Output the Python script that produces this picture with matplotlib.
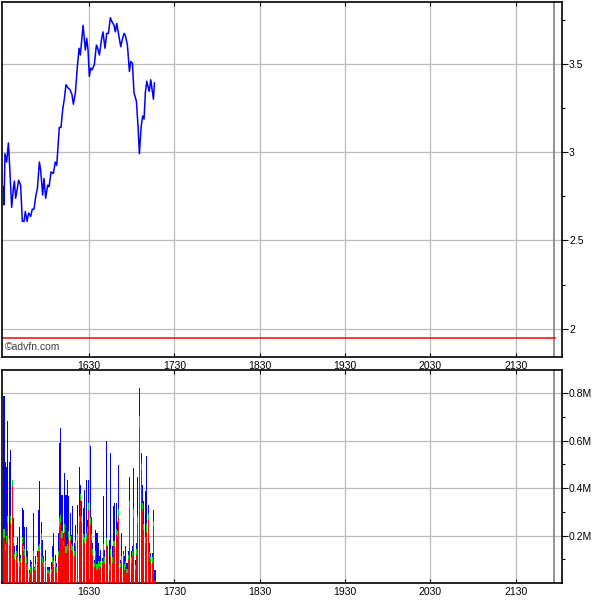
import matplotlib
matplotlib.use("Agg")
import matplotlib.pyplot as plt
import numpy as np

# ---- data (minutes after 15:30) ----
price_min = [0.0, 0.2, 0.9, 2.1, 3.3, 4.4, 5.6, 6.8, 7.5, 8.4, 9.6, 10.5, 11.9, 13.1, 14.3, 15.2,
             16.4, 17.6, 19.0, 20.1, 21.3, 22.5, 23.7, 25.1, 26.0, 27.4, 28.3, 29.5, 30.9, 31.9,
             33.3, 34.9, 36.3, 37.3, 39.1, 40.3, 41.5, 42.6, 43.8, 45.2, 46.6, 48.0, 49.0, 50.4,
             51.8, 53.0, 53.9, 55.8, 57.4, 58.4, 59.3, 60.2, 61.2, 62.1, 63.7, 65.2, 66.1, 67.3,
             68.7, 69.8, 71.2, 72.4, 73.6, 75.0, 76.2, 77.6, 78.5, 79.5, 80.9, 82.3, 83.4, 84.6,
             85.5, 87.0, 88.4, 89.3, 90.5, 91.6, 93.3, 94.5, 95.4, 96.6, 97.7, 98.7, 99.6, 100.6,
             101.7, 102.4, 103.4, 105.3, 106.0]
price = [2.804, 2.701, 2.991, 2.944, 3.052, 2.888, 2.687, 2.795, 2.836, 2.739, 2.795, 2.841,
         2.813, 2.608, 2.608, 2.664, 2.608, 2.655, 2.636, 2.677, 2.677, 2.748, 2.795, 2.944,
         2.897, 2.757, 2.851, 2.739, 2.813, 2.804, 2.888, 2.879, 2.944, 2.925, 3.140, 3.140,
         3.243, 3.299, 3.382, 3.364, 3.354, 3.326, 3.271, 3.336, 3.485, 3.588, 3.550, 3.718,
         3.578, 3.644, 3.578, 3.429, 3.476, 3.466, 3.494, 3.606, 3.588, 3.550, 3.634, 3.681,
         3.588, 3.672, 3.672, 3.761, 3.737, 3.718, 3.681, 3.728, 3.662, 3.597, 3.638, 3.672,
         3.662, 3.606, 3.457, 3.513, 3.504, 3.336, 3.289, 3.140, 2.991, 3.140, 3.205, 3.187,
         3.336, 3.401, 3.364, 3.345, 3.410, 3.299, 3.392]
ref_price = 1.95

vol_min = [0.2, 1.2, 2.1, 3.0, 4.0, 5.1, 6.1, 7.0, 7.9, 8.9, 9.8, 10.8, 11.9, 12.9, 13.8, 14.7,
           15.7, 16.9, 17.8, 18.7, 19.7, 20.8, 21.8, 22.7, 23.7, 24.6, 25.5, 26.5, 27.4, 28.3,
           29.5, 30.5, 31.4, 32.3, 33.3, 34.2, 35.1, 36.1, 37.0, 38.2, 39.1, 40.1, 41.0, 41.9,
           42.9, 43.8, 45.0, 45.9, 46.9, 47.8, 48.7, 49.9, 50.8, 51.8, 53.0, 53.9, 54.8, 55.8,
           56.7, 57.9, 58.8, 59.8, 60.7, 61.6, 62.6, 63.7, 64.7, 65.6, 66.5, 67.5, 68.4, 69.4,
           70.3, 71.2, 72.2, 73.1, 74.3, 75.2, 76.2, 77.1, 78.0, 79.0, 79.9, 80.9, 81.8, 83.0,
           83.9, 84.8, 85.8, 86.7, 87.6, 88.6, 89.8, 90.7, 91.6, 92.6, 93.5, 94.4, 95.6, 96.6,
           97.5, 98.4, 99.6, 100.5, 101.5, 102.4, 103.4, 104.3, 105.2, 106.4]
vol_total = [0.787, 0.512, 0.491, 0.681, 0.512, 0.562, 0.435, 0.273, 0.154, 0.161, 0.196, 0.238,
             0.119, 0.315, 0.308, 0.238, 0.238, 0.133, 0.055, 0.098, 0.090, 0.294, 0.069, 0.112,
             0.133, 0.308, 0.428, 0.259, 0.182, 0.112, 0.140, 0.069, 0.069, 0.069, 0.090, 0.154,
             0.210, 0.119, 0.084, 0.210, 0.590, 0.653, 0.372, 0.210, 0.463, 0.372, 0.435, 0.365,
             0.294, 0.203, 0.323, 0.168, 0.245, 0.330, 0.491, 0.414, 0.344, 0.315, 0.393, 0.435,
             0.266, 0.435, 0.576, 0.280, 0.168, 0.098, 0.224, 0.210, 0.168, 0.112, 0.140, 0.105,
             0.365, 0.140, 0.597, 0.161, 0.182, 0.548, 0.154, 0.323, 0.337, 0.337, 0.259, 0.498,
             0.098, 0.210, 0.133, 0.112, 0.154, 0.084, 0.133, 0.449, 0.133, 0.154, 0.484, 0.098,
             0.168, 0.449, 0.822, 0.548, 0.414, 0.344, 0.386, 0.534, 0.330, 0.168, 0.126, 0.126,
             0.308, 0.055]
vol_red = [0.189, 0.133, 0.168, 0.252, 0.154, 0.252, 0.410, 0.168, 0.100, 0.112, 0.083, 0.069,
           0.090, 0.168, 0.133, 0.119, 0.083, 0.055, 0.027, 0.041, 0.069, 0.112, 0.055, 0.055,
           0.090, 0.133, 0.133, 0.182, 0.083, 0.069, 0.069, 0.041, 0.041, 0.027, 0.041, 0.083,
           0.069, 0.069, 0.048, 0.112, 0.238, 0.252, 0.189, 0.154, 0.217, 0.126, 0.133, 0.189,
           0.175, 0.140, 0.133, 0.112, 0.154, 0.182, 0.252, 0.351, 0.259, 0.182, 0.168, 0.182,
           0.210, 0.308, 0.245, 0.182, 0.119, 0.069, 0.112, 0.055, 0.069, 0.055, 0.069, 0.083,
           0.140, 0.083, 0.154, 0.154, 0.055, 0.112, 0.083, 0.154, 0.154, 0.203, 0.196, 0.280,
           0.069, 0.090, 0.112, 0.055, 0.069, 0.041, 0.100, 0.315, 0.083, 0.112, 0.280, 0.055,
           0.120, 0.252, 0.653, 0.477, 0.308, 0.224, 0.168, 0.217, 0.266, 0.105, 0.090, 0.083,
           0.238, 0.013]
vol_green = [0.040, 0.030, 0.030, 0.030, 0.030, 0.030, 0.025, 0.025, 0.025, 0.025, 0.025, 0.025,
             0.015, 0.025, 0.025, 0.025, 0.025, 0.025, 0.014, 0.025, 0.010, 0.025, 0.007, 0.025,
             0.020, 0.025, 0.030, 0.025, 0.025, 0.020, 0.025, 0.014, 0.014, 0.020, 0.020, 0.025,
             0.025, 0.025, 0.018, 0.025, 0.035, 0.035, 0.030, 0.025, 0.030, 0.030, 0.030, 0.030,
             0.025, 0.025, 0.025, 0.025, 0.025, 0.025, 0.030, 0.025, 0.025, 0.025, 0.025, 0.030,
             0.025, 0.030, 0.035, 0.025, 0.025, 0.014, 0.025, 0.025, 0.025, 0.025, 0.025, 0.011,
             0.025, 0.025, 0.035, 0.005, 0.025, 0.030, 0.025, 0.025, 0.025, 0.025, 0.025, 0.030,
             0.014, 0.025, 0.010, 0.025, 0.025, 0.020, 0.020, 0.030, 0.025, 0.025, 0.030, 0.020,
             0.025, 0.030, 0.050, 0.030, 0.030, 0.025, 0.025, 0.030, 0.025, 0.025, 0.020, 0.025,
             0.025, 0.000]

session_end_min = 387
xtick_min = [60, 120, 180, 240, 300, 360]
xtick_labels = ["1630", "1730", "1830", "1930", "2030", "2130"]
price_ticks = [2, 2.5, 3, 3.5]
price_tick_labels = ["2", "2.5", "3", "3.5"]
price_minor = [2.25, 2.75, 3.25, 3.75]
vol_ticks = [0.2, 0.4, 0.6, 0.8]
vol_tick_labels = ["0.2M", "0.4M", "0.6M", "0.8M"]
vol_minor = [0.1, 0.3, 0.5, 0.7]

# ---- style ----
plt.rcParams['font.family'] = ['Liberation Sans', 'DejaVu Sans']
FS = 7.5
GRID = '#b8bcbc'
XLIM = (-1.2, 392.6)

fig = plt.figure(figsize=(6, 6), dpi=100)
ax1 = fig.add_axes([2/600, 1-357/600, 560/600, 355/600])
ax2 = fig.add_axes([2/600, 1-583/600, 560/600, 213/600])

def style(ax):
    ax.set_xlim(*XLIM)
    ax.set_xticks(xtick_min)
    ax.set_xticklabels(xtick_labels, fontsize=FS)
    ax.tick_params(axis='x', direction='in', length=3, top=True, bottom=True, pad=3, width=0.8)
    ax.yaxis.tick_right()
    ax.tick_params(axis='y', which='both', direction='out', right=True, left=False,
                   labelsize=FS, pad=1, width=0.8)
    ax.tick_params(axis='y', which='major', length=4)
    ax.tick_params(axis='y', which='minor', length=2)
    ax.grid(True, which='major', color=GRID, linewidth=0.9)
    ax.set_axisbelow(True)
    for s in ax.spines.values():
        s.set_color('black')
        s.set_linewidth(1.2)
    ax.axvline(session_end_min, color='#808080', linewidth=1.2, zorder=1)

# price panel
style(ax1)
ax1.set_ylim(1.84, 3.85)
ax1.set_yticks(price_ticks)
ax1.set_yticklabels(price_tick_labels)
ax1.set_yticks(price_minor, minor=True)
ax1.plot(price_min, price, color='#0000ff', linewidth=1.1, zorder=3)
ax1.plot([XLIM[0], session_end_min + 0.5], [ref_price, ref_price], color='#ff0000',
         linewidth=1.1, zorder=2)
ax1.text(0.006, 0.015, "\u00a9advfn.com", transform=ax1.transAxes, fontsize=7.5,
         color='#404040', ha='left', va='bottom')

# volume panel
style(ax2)
ax2.set_ylim(0, 0.898)
ax2.set_yticks(vol_ticks)
ax2.set_yticklabels(vol_tick_labels)
ax2.set_yticks(vol_minor, minor=True)
vt = np.array(vol_total)
vr = np.array(vol_red)
vg = np.array(vol_green)
vb = np.clip(vt - vr - vg, 0, None)
w = 0.72
ax2.bar(vol_min, vr, width=w, color='#ff0000', linewidth=0, zorder=3, antialiased=False)
ax2.bar(vol_min, vg, width=w, bottom=vr, color='#00e000', linewidth=0, zorder=3, antialiased=False)
ax2.bar(vol_min, vb, width=w, bottom=vr + vg, color='#0000ff', linewidth=0, zorder=3, antialiased=False)

fig.savefig("out.png", dpi=100)
